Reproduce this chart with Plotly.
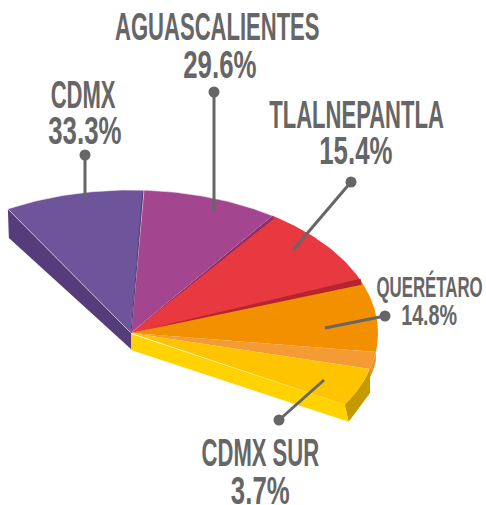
import numpy as np
import plotly.graph_objects as go

# ---- chart data ----
categories = ["CDMX", "AGUASCALIENTES", "TLALNEPANTLA", "QUERÉTARO", "", "CDMX SUR"]
percent_labels = ["33.3%", "29.6%", "15.4%", "14.8%", "", "3.7%"]
drawn_sweep_deg = [32.9, 32.0, 34.0, 28.6, 7.0, 15.5]
start_angle_deg = -29.9
slice_colors = ["#6E549B", "#A44590", "#E7393F", "#F39000", "#F59B33", "#FFC400"]

# ---- projection of the tilted disc ----
CX, CY, RX, RY = 131.0, 333.0, 247.0, 143.0
DARK = "#666666"
FONT = "Liberation Sans"


def rim(t_deg):
    t = np.radians(t_deg)
    return CX + RX * np.sin(t), CY - RY * np.cos(t)


def arc(t0, t1, n=40):
    return rim(np.linspace(t0, t1, n))


edges = start_angle_deg + np.concatenate([[0], np.cumsum(drawn_sweep_deg)])
fig = go.Figure()


def poly(xs, ys, color, line=None, width=0):
    fig.add_trace(go.Scatter(
        x=list(xs), y=list(ys), mode="lines", fill="toself", fillcolor=color,
        line=dict(color=line or color, width=width), hoverinfo="skip", showlegend=False))


def wedge(t0, t1, color, line=None, width=0):
    ax, ay = arc(t0, t1)
    poly([CX, *ax, CX], [CY, *ay, CY], color, line, width)


# purple side wall
x0, y0 = rim(edges[0])
poly([x0, CX, CX + 1, x0 + 1], [y0, CY, CY + 17, y0 + 29], "#553C7B")

# light-orange side wall, behind the yellow slice
ax, ay = arc(edges[4], edges[5] + 1)
poly([*ax, *ax[::-1]], [*ay, *(ay[::-1] + 9)], "#E8912C")

# top faces except yellow
for i in range(5):
    wedge(edges[i], edges[i + 1], slice_colors[i], "#EFE8F2" if i < 2 else slice_colors[i], 0.6 if i < 2 else 0)

# seams between slices
xs, ys = rim(edges[1])
fig.add_trace(go.Scatter(x=[CX, xs - 1], y=[CY, ys + 1], mode="lines",
                         line=dict(color="#4E3A70", width=1), hoverinfo="skip", showlegend=False))
xs, ys = rim(edges[2])
poly([CX, xs, xs + 1, CX], [CY, ys, ys + 3, CY], "#8A2F73")
xs, ys = rim(edges[3])
poly([CX, xs - 1, xs, CX], [CY, ys - 3, ys + 3, CY], "#B5242F")

# yellow slice: side wall, front wall, top face
ax, ay = arc(edges[5], edges[6])
poly([*ax, ax[-1] + 4, ax[0]], [*ay, ay[-1] + 17, ay[0] + 24], "#C49A00")
poly([CX, ax[-1], ax[-1] + 4, CX], [CY + 1, ay[-1], ay[-1] + 17, CY + 17], "#FFD200")
wedge(edges[5], edges[6], slice_colors[5])

# leader lines with round end dots (dot first, slice end second)
leader_x = [[85, 85], [214, 214], [351, 293], [385, 325], [279, 324]]
leader_y = [[155, 197], [92, 212], [182, 250], [316, 328], [420, 380]]
for lx, ly in zip(leader_x, leader_y):
    fig.add_trace(go.Scatter(x=lx, y=ly, mode="lines", line=dict(color=DARK, width=3),
                             hoverinfo="skip", showlegend=False))
    fig.add_trace(go.Scatter(x=lx[:1], y=ly[:1], mode="markers",
                             marker=dict(color=DARK, size=11), hoverinfo="skip", showlegend=False))

# text
name_pos = {0: (83, 95, 38), 1: (217, 27, 38), 2: (356, 115, 38), 3: (429, 286, 29), 5: (260, 453, 38)}
pct_pos = {0: (85, 131, 38), 1: (220, 65, 38), 2: (356, 151, 38), 3: (429, 315, 29), 5: (260, 491, 38)}
for i, (x, y, s) in name_pos.items():
    fig.add_annotation(x=x, y=y, text=categories[i], showarrow=False, xanchor="center", yanchor="middle",
                       font=dict(family=FONT, size=s, color=DARK, weight="bold"))
for i, (x, y, s) in pct_pos.items():
    fig.add_annotation(x=x, y=y, text=percent_labels[i], showarrow=False, xanchor="center", yanchor="middle",
                       font=dict(family=FONT, size=s, color=DARK, weight="bold"))

fig.update_layout(
    width=486, height=505, margin=dict(l=0, r=0, t=0, b=0),
    paper_bgcolor="white", plot_bgcolor="white", showlegend=False,
    xaxis=dict(range=[0, 486], visible=False, fixedrange=True),
    yaxis=dict(range=[505, 0], visible=False, fixedrange=True),
)

# condense the labels horizontally, keeping them as real text
post = """
document.body.style.margin='0';
var gd=document.getElementsByClassName('plotly-graph-div')[0];
gd.querySelectorAll('.annotation-text').forEach(function(t){
  var b=t.getBBox(); var cx=b.x+b.width/2;
  var k=t.textContent.indexOf('%')>=0?0.68:0.58;
  t.setAttribute('transform','translate('+cx+' 0) scale('+k+' 1) translate('+(-cx)+' 0)');
});
"""
fig.write_html("out.html", post_script=post, config={"displayModeBar": False})
